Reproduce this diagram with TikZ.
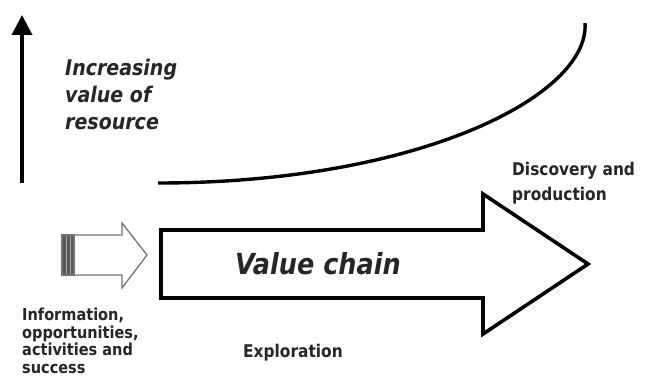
\documentclass[tikz,border=0pt]{standalone}
\usepackage{fontspec}
\newfontfamily\dvsans[FakeStretch=0.88]{DejaVu Sans}
\usetikzlibrary{arrows.meta}
\tikzset{
  lbl/.style={inner sep=0pt, align=left, text=black!85},
  thick line/.style={line width=3.6pt},
  grayarrow/.style={draw=black!55, line width=1.3pt, fill=white, line join=miter}
}
\begin{document}
\begin{tikzpicture}[x=1pt,y=-1pt]
\useasboundingbox (0,0) rectangle (645,379);
\fill[white] (0,0) rectangle (645,379);
% vertical arrow
\coordinate (vbot) at (22,183);
\coordinate (vtop) at (22,15);
\draw[line width=3.6pt, -{Triangle[width=20pt,length=20pt]}] (vbot) -- (vtop);
% rising curve
\coordinate (cstart) at (158,183);
\coordinate (cend) at (585,23);
\draw[line width=3.4pt] (cstart) .. controls (420,183) and (590,95) .. (cend);
% small gray arrow
\draw[grayarrow] (62,235) -- (122,235) -- (122,223) -- (147,255) -- (122,288) -- (122,275) -- (62,275) -- cycle;
\fill[black!65] (62,235) rectangle (74,275);
\draw[black!35, line width=0.8pt] (66,235) -- (66,275) (70.5,235) -- (70.5,275);
\draw[black!55, line width=1.3pt] (62,235) rectangle (74,275);
% big value chain arrow
\draw[thick line, line join=miter, fill=white] (161,230) -- (483,230) -- (483,194) -- (588,264) -- (483,334) -- (483,298) -- (161,298) -- cycle;
% texts
\node[lbl, anchor=north west, font=\dvsans\bfseries\itshape\fontsize{21.6}{27}\selectfont] (inc) at (65,59) {Increasing\\value of\\resource};
\node[lbl, anchor=base west, font=\dvsans\bfseries\itshape\fontsize{29}{32}\selectfont] (vc) at (235,275) {Value chain};
\node[lbl, anchor=north west, font=\dvsans\bfseries\fontsize{17.5}{25}\selectfont] (disc) at (512,162) {Discovery and\\production};
\node[lbl, anchor=north west, font=\dvsans\bfseries\fontsize{16.5}{17.5}\selectfont] (info) at (22,308) {Information,\\opportunities,\\activities and\\success};
\node[lbl, anchor=base west, font=\dvsans\bfseries\fontsize{17.5}{21}\selectfont] (expl) at (243,357) {Exploration};
\end{tikzpicture}
\end{document}
